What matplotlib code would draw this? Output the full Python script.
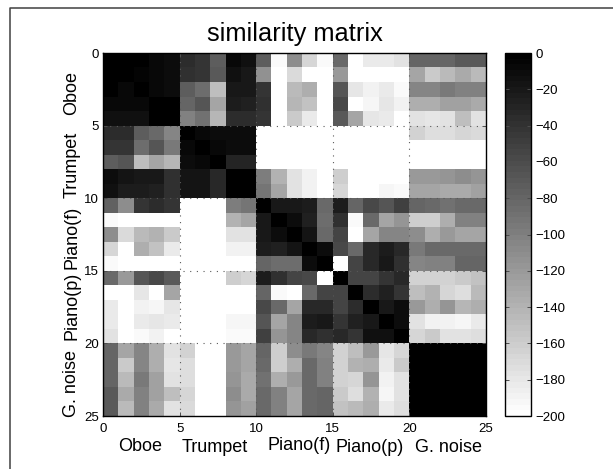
import numpy as np
import matplotlib
matplotlib.use('Agg')
import matplotlib.pyplot as plt
from matplotlib.lines import Line2D

plt.rcParams['font.family'] = ['Liberation Sans', 'DejaVu Sans']

# grey levels, 0 = black, 255 = white
grey_rows = [
    [0, 0, 0, 8, 15, 45, 55, 95, 10, 18, 95, 250, 140, 215, 250, 105, 255, 235, 235, 225, 100, 100, 100, 90, 90],
    [0, 0, 5, 8, 15, 48, 55, 88, 16, 25, 145, 255, 218, 255, 255, 155, 255, 255, 252, 255, 165, 200, 185, 170, 185],
    [0, 8, 0, 8, 15, 95, 110, 190, 25, 25, 52, 255, 185, 175, 255, 85, 230, 240, 232, 248, 135, 135, 122, 130, 130],
    [8, 8, 8, 0, 0, 100, 85, 165, 28, 32, 48, 255, 180, 195, 255, 75, 255, 247, 230, 240, 172, 172, 160, 160, 170],
    [18, 18, 18, 0, 0, 130, 115, 180, 45, 45, 52, 255, 200, 235, 255, 90, 165, 230, 235, 255, 225, 228, 225, 190, 225],
    [45, 45, 95, 105, 135, 0, 8, 15, 15, 15, 255, 255, 255, 255, 255, 255, 255, 255, 255, 255, 210, 220, 220, 212, 218],
    [52, 52, 110, 85, 120, 8, 0, 8, 15, 15, 255, 255, 255, 255, 255, 255, 255, 255, 255, 255, 255, 255, 255, 255, 255],
    [95, 85, 190, 165, 180, 15, 8, 0, 38, 38, 255, 255, 255, 255, 255, 255, 255, 255, 255, 255, 255, 255, 255, 255, 255],
    [12, 20, 25, 25, 48, 20, 20, 40, 0, 0, 125, 178, 225, 243, 255, 205, 255, 255, 255, 255, 155, 155, 150, 140, 150],
    [18, 28, 28, 32, 48, 20, 20, 40, 0, 0, 118, 165, 225, 243, 255, 212, 255, 255, 245, 248, 165, 165, 170, 170, 160],
    [98, 140, 52, 45, 52, 255, 255, 255, 125, 118, 0, 25, 25, 30, 105, 30, 100, 75, 85, 65, 100, 105, 115, 105, 105],
    [250, 255, 255, 255, 255, 255, 255, 255, 178, 165, 25, 0, 15, 35, 110, 50, 248, 105, 165, 150, 205, 205, 175, 128, 128],
    [140, 218, 185, 178, 200, 255, 255, 255, 225, 225, 25, 12, 0, 22, 105, 70, 255, 165, 135, 135, 140, 172, 155, 165, 165],
    [215, 255, 175, 195, 235, 255, 255, 255, 243, 243, 30, 35, 20, 0, 15, 75, 105, 42, 30, 42, 120, 105, 105, 105, 105],
    [250, 255, 255, 255, 255, 255, 255, 255, 255, 255, 100, 110, 110, 15, 0, 255, 70, 40, 25, 50, 135, 130, 130, 100, 100],
    [105, 155, 85, 75, 90, 255, 255, 255, 205, 212, 30, 50, 70, 75, 255, 0, 70, 70, 55, 40, 210, 210, 210, 200, 195],
    [255, 255, 230, 255, 165, 255, 255, 255, 255, 255, 100, 248, 255, 105, 70, 70, 0, 45, 35, 55, 190, 178, 215, 222, 185],
    [235, 255, 240, 247, 230, 255, 255, 255, 255, 255, 75, 105, 165, 42, 40, 70, 45, 0, 25, 15, 155, 172, 150, 180, 172],
    [235, 252, 232, 230, 235, 255, 255, 255, 245, 245, 85, 165, 135, 30, 25, 55, 35, 25, 0, 15, 225, 240, 240, 247, 232],
    [225, 255, 248, 240, 255, 255, 255, 255, 248, 248, 65, 150, 135, 42, 50, 40, 55, 18, 18, 0, 215, 200, 225, 225, 222],
    [100, 165, 135, 172, 225, 210, 255, 255, 155, 165, 100, 205, 140, 120, 135, 210, 190, 155, 228, 215, 0, 0, 0, 0, 0],
    [100, 200, 135, 172, 228, 220, 255, 255, 155, 165, 105, 205, 172, 105, 130, 210, 178, 172, 235, 200, 0, 0, 0, 0, 0],
    [100, 185, 122, 160, 225, 220, 255, 255, 150, 170, 115, 175, 155, 105, 130, 210, 215, 150, 240, 225, 0, 0, 0, 0, 0],
    [90, 170, 130, 160, 190, 212, 255, 255, 140, 170, 105, 128, 165, 105, 100, 200, 222, 178, 247, 225, 0, 0, 0, 0, 0],
    [90, 185, 130, 170, 225, 218, 255, 255, 150, 160, 105, 128, 165, 105, 100, 195, 185, 172, 232, 222, 0, 0, 0, 0, 0],
]
group_names = ['Oboe', 'Trumpet', 'Piano(f)', 'Piano(p)', 'G. noise']
group_ticks = [0, 5, 10, 15, 20, 25]
cbar_ticks = [0, -20, -40, -60, -80, -100, -120, -140, -160, -180, -200]

W, H = 613, 469
sim = -np.array(grey_rows) / 255.0 * 200

fig = plt.figure(figsize=(W / 100, H / 100), dpi=100)

def px(x, y):
    return x / W, 1 - y / H

# outer frame, only top and left are drawn in the picture
fig.add_artist(Line2D([10 / W, 10 / W, 1], [0, 1 - 8 / H, 1 - 8 / H], color='0.25', lw=1.1))

ax = fig.add_axes([103 / W, 1 - 416 / H, 383 / W, 363 / H])
im = ax.imshow(sim, cmap=plt.get_cmap('gray_r', 64), vmin=-200, vmax=0, extent=[0, 25, 25, 0],
               aspect='auto', interpolation='nearest')
for t in group_ticks[1:-1]:
    ax.axvline(t, color='0.35', lw=0.8, ls=(0, (1, 5)))
    ax.axhline(t, color='0.35', lw=0.8, ls=(0, (1, 5)))
ax.set_xticks(group_ticks)
ax.set_yticks(group_ticks)
ax.tick_params(direction='in', length=3, width=0.7, color='0.3', labelsize=9.5, top=True, right=True)
ax.tick_params(axis='x', pad=5)
ax.tick_params(axis='y', pad=3)
ax.set_title('similarity matrix', fontsize=18.3, pad=8.5)
for s in ax.spines.values():
    s.set_linewidth(1.0)

# group labels sit by hand in the original, not evenly
xlab_pos = [(140, 446), (215, 447), (299, 445), (370, 447), (448, 447)]
ylab_pos = [(72, 93), (72, 165), (72, 237), (72, 306), (72, 383)]
for name, p in zip(group_names, xlab_pos):
    x, y = px(*p)
    fig.text(x, y, name, ha='center', va='center', fontsize=13)
for name, p in zip(group_names, ylab_pos):
    x, y = px(*p)
    fig.text(x, y, name, ha='center', va='center', fontsize=13, rotation=90)

cax = fig.add_axes([505 / W, 1 - 416 / H, 26 / W, 363 / H])
cb = fig.colorbar(im, cax=cax, ticks=cbar_ticks)
cb.ax.tick_params(direction='in', length=3, width=0.7, color='0.3', labelsize=9.5, pad=3, left=True, right=True)
cb.outline.set_linewidth(1.0)

fig.savefig('out.png', dpi=100)
